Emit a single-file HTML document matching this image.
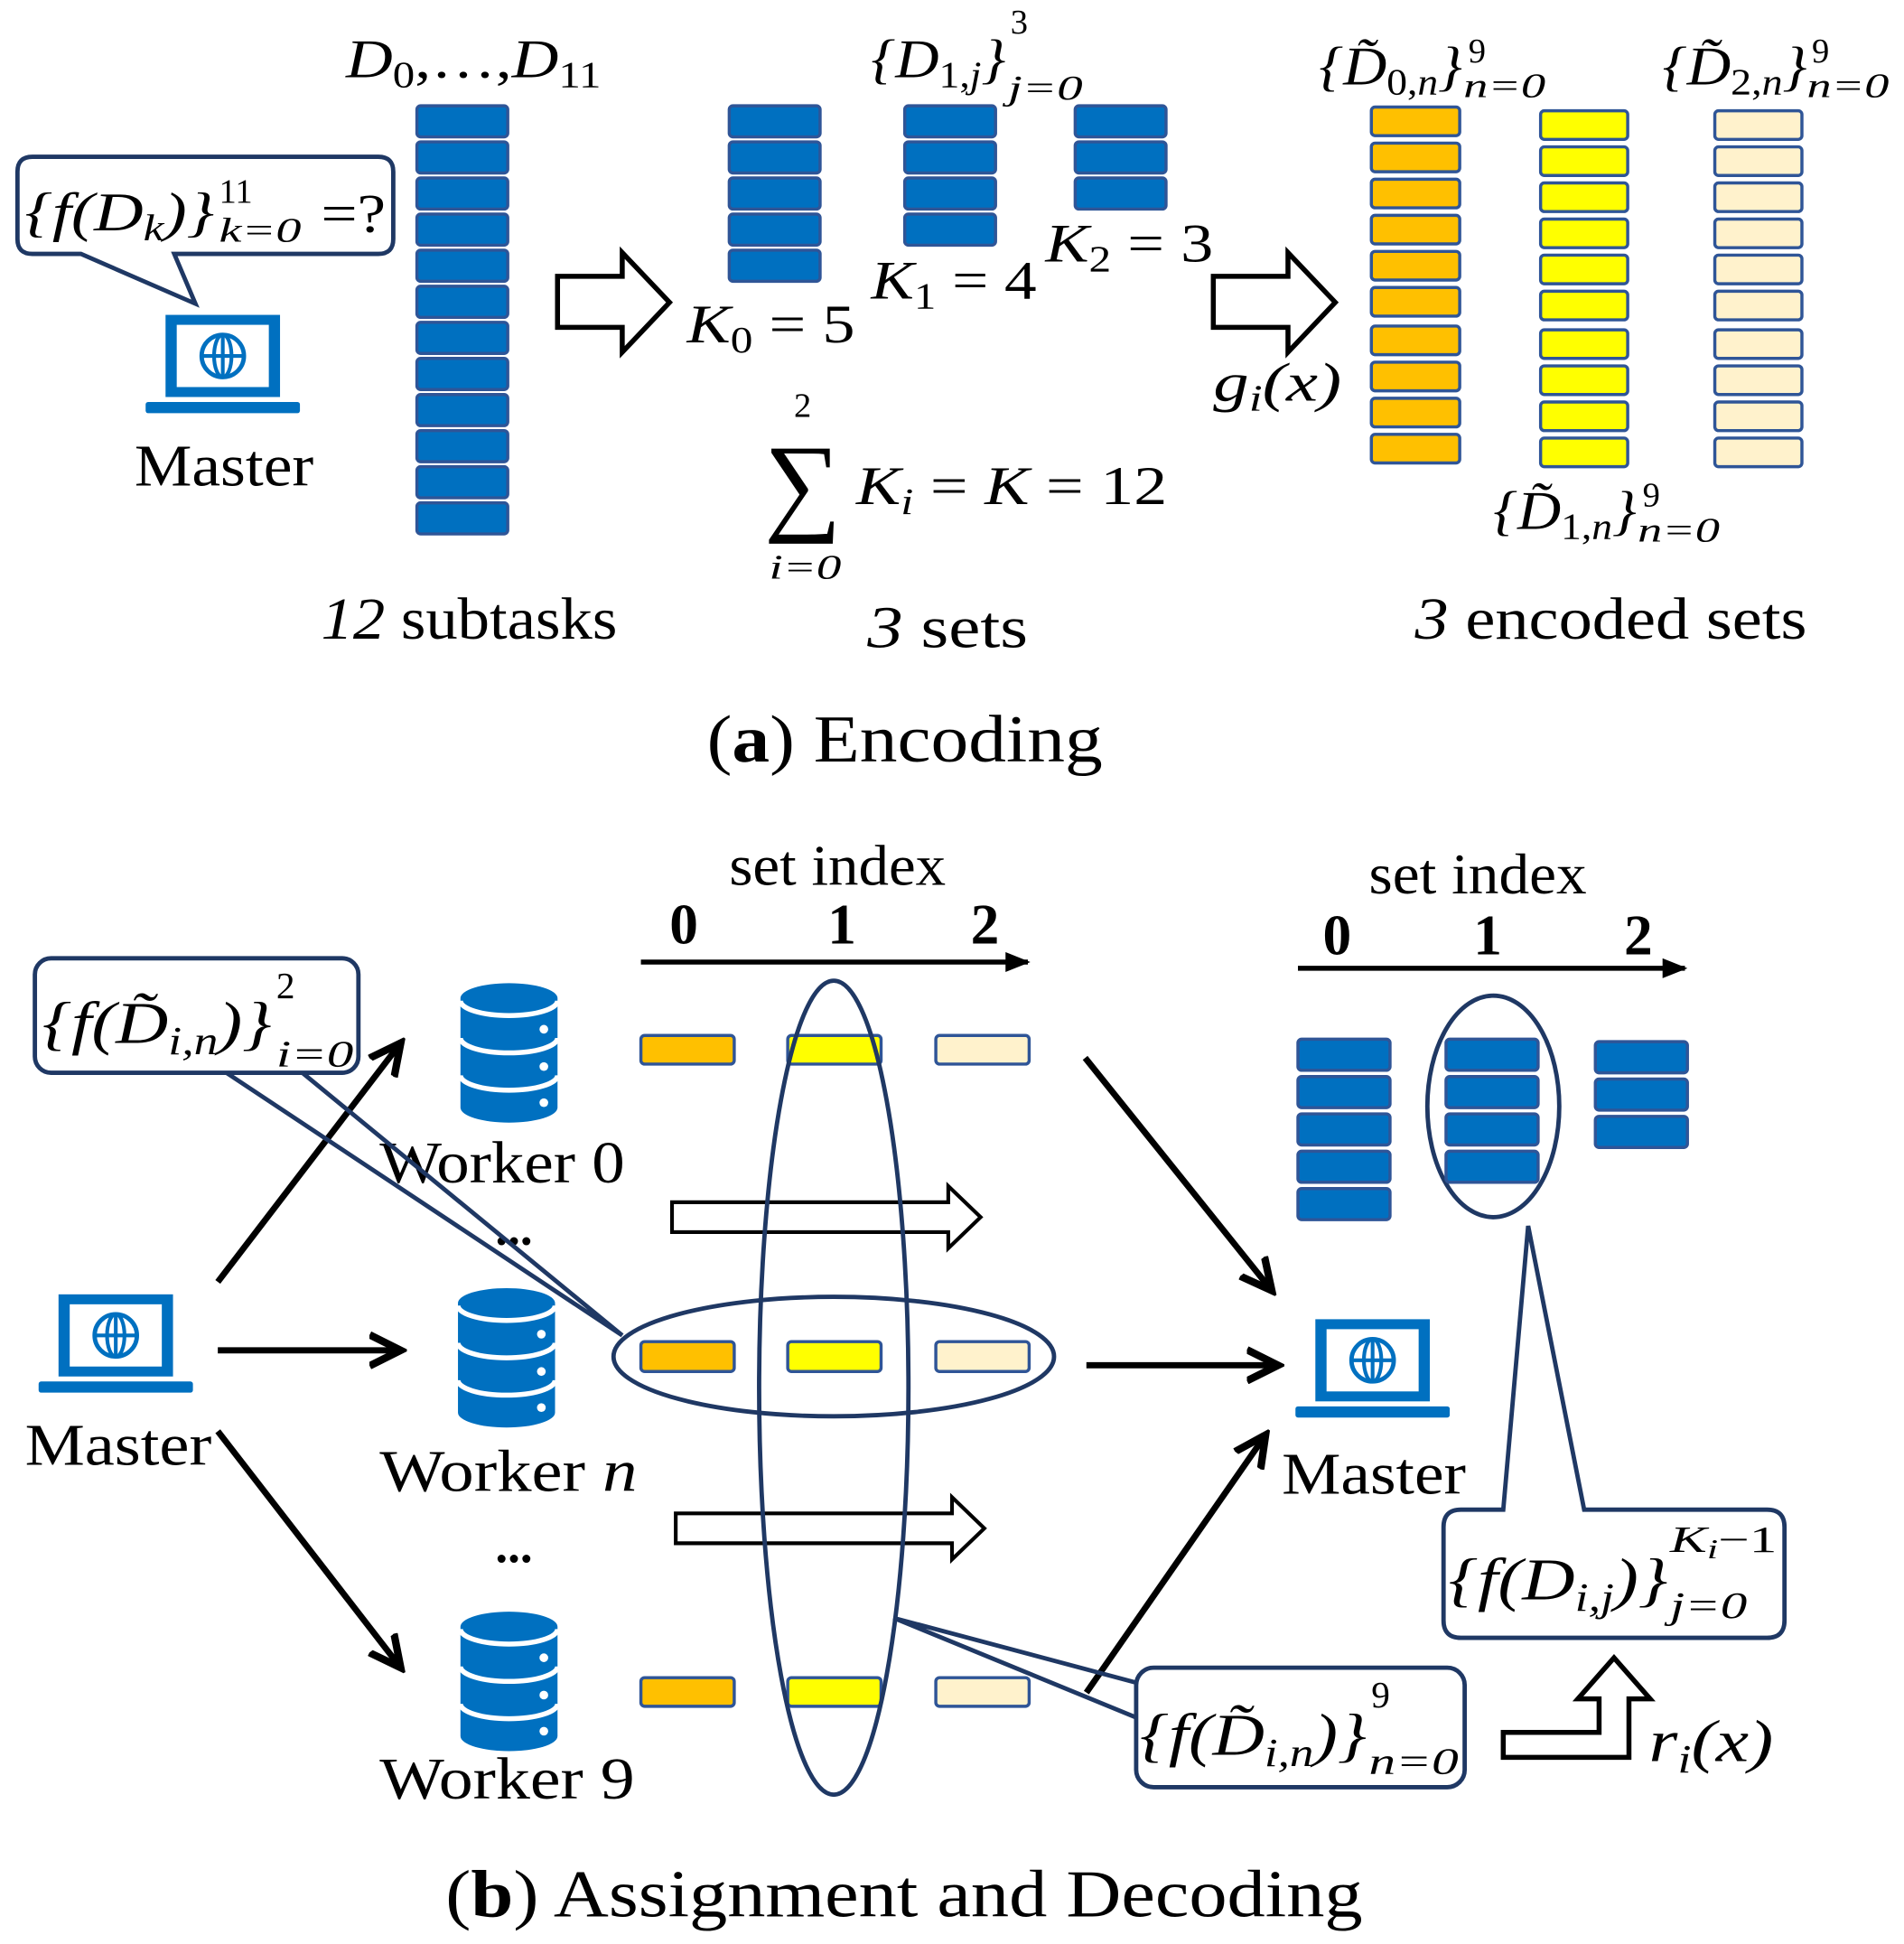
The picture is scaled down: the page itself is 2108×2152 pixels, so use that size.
<!DOCTYPE html>
<html><head><meta charset="utf-8"><style>
html,body{margin:0;padding:0;background:#fff}
svg{display:block}
text{font-family:"Liberation Serif",serif;fill:#000}
.m{font-style:italic}
</style></head><body>
<svg width="2108" height="2152" viewBox="0 0 1530 1562" xmlns="http://www.w3.org/2000/svg">
<defs>
<marker id="ah" markerWidth="6" markerHeight="6" refX="5" refY="3" orient="auto" markerUnits="strokeWidth"><path d="M0,0.5 L5,3 L0,5.5" fill="none" stroke="#000" stroke-width="1.2"/></marker>
<marker id="ah2" markerWidth="5" markerHeight="4" refX="4.5" refY="2" orient="auto" markerUnits="strokeWidth"><path d="M0,0 L5,2 L0,4z" fill="#000"/></marker>
<g id="lap">
<rect x="0" y="0" width="92" height="66" fill="#0070C0"/>
<rect x="9" y="8" width="74" height="50" fill="#fff"/>
<circle cx="46" cy="33" r="17" fill="none" stroke="#0070C0" stroke-width="3.5"/>
<ellipse cx="46" cy="33" rx="7" ry="17" fill="none" stroke="#0070C0" stroke-width="3"/>
<line x1="29" y1="33" x2="63" y2="33" stroke="#0070C0" stroke-width="3"/>
<line x1="46" y1="16" x2="46" y2="50" stroke="#0070C0" stroke-width="3"/>
<rect x="-16" y="70" width="124" height="9" rx="2" fill="#0070C0"/>
</g>
<g id="db">
<path d="M0,12 a39,12 0 0 1 78,0 v88 a39,12 0 0 1 -78,0z" fill="#0070C0"/>
<path d="M0,14 a39,12 0 0 0 78,0 M0,44 a39,12 0 0 0 78,0 M0,74 a39,12 0 0 0 78,0" fill="none" stroke="#fff" stroke-width="4"/>
<circle cx="67" cy="37" r="3.5" fill="#fff"/><circle cx="67" cy="67" r="3.5" fill="#fff"/><circle cx="67" cy="96" r="3.5" fill="#fff"/>
</g>
</defs>

<!-- (a) -->
<g fill="#0070C0" stroke="#2F5597" stroke-width="2.5">
<rect x="335" y="85" width="73" height="25" rx="3"/><rect x="335" y="114" width="73" height="25" rx="3"/><rect x="335" y="143" width="73" height="25" rx="3"/><rect x="335" y="172" width="73" height="25" rx="3"/><rect x="335" y="201" width="73" height="25" rx="3"/><rect x="335" y="230" width="73" height="25" rx="3"/><rect x="335" y="259" width="73" height="25" rx="3"/><rect x="335" y="288" width="73" height="25" rx="3"/><rect x="335" y="317" width="73" height="25" rx="3"/><rect x="335" y="346" width="73" height="25" rx="3"/><rect x="335" y="375" width="73" height="25" rx="3"/><rect x="335" y="404" width="73" height="25" rx="3"/>
<rect x="586" y="85" width="73" height="25" rx="3"/><rect x="586" y="114" width="73" height="25" rx="3"/><rect x="586" y="143" width="73" height="25" rx="3"/><rect x="586" y="172" width="73" height="25" rx="3"/><rect x="586" y="201" width="73" height="25" rx="3"/>
<rect x="727" y="85" width="73" height="25" rx="3"/><rect x="727" y="114" width="73" height="25" rx="3"/><rect x="727" y="143" width="73" height="25" rx="3"/><rect x="727" y="172" width="73" height="25" rx="3"/>
<rect x="864" y="85" width="73" height="25" rx="3"/><rect x="864" y="114" width="73" height="25" rx="3"/><rect x="864" y="143" width="73" height="25" rx="3"/>
</g>
<g stroke="#2F5597" stroke-width="2.5">
<g fill="#FFC000"><rect x="1102" y="86" width="71" height="23" rx="3"/><rect x="1102" y="115" width="71" height="23" rx="3"/><rect x="1102" y="144" width="71" height="23" rx="3"/><rect x="1102" y="173" width="71" height="23" rx="3"/><rect x="1102" y="202" width="71" height="23" rx="3"/><rect x="1102" y="231" width="71" height="23" rx="3"/><rect x="1102" y="262" width="71" height="23" rx="3"/><rect x="1102" y="291" width="71" height="23" rx="3"/><rect x="1102" y="320" width="71" height="23" rx="3"/><rect x="1102" y="349" width="71" height="23" rx="3"/></g>
<g fill="#FFFF00"><rect x="1238" y="89" width="70" height="23" rx="3"/><rect x="1238" y="118" width="70" height="23" rx="3"/><rect x="1238" y="147" width="70" height="23" rx="3"/><rect x="1238" y="176" width="70" height="23" rx="3"/><rect x="1238" y="205" width="70" height="23" rx="3"/><rect x="1238" y="234" width="70" height="23" rx="3"/><rect x="1238" y="265" width="70" height="23" rx="3"/><rect x="1238" y="294" width="70" height="23" rx="3"/><rect x="1238" y="323" width="70" height="23" rx="3"/><rect x="1238" y="352" width="70" height="23" rx="3"/></g>
<g fill="#FFF2CC"><rect x="1378" y="89" width="70" height="23" rx="3"/><rect x="1378" y="118" width="70" height="23" rx="3"/><rect x="1378" y="147" width="70" height="23" rx="3"/><rect x="1378" y="176" width="70" height="23" rx="3"/><rect x="1378" y="205" width="70" height="23" rx="3"/><rect x="1378" y="234" width="70" height="23" rx="3"/><rect x="1378" y="265" width="70" height="23" rx="3"/><rect x="1378" y="294" width="70" height="23" rx="3"/><rect x="1378" y="323" width="70" height="23" rx="3"/><rect x="1378" y="352" width="70" height="23" rx="3"/></g>
</g>
<!-- bubble a -->
<path d="M26,126 H304 Q316,126 316,138 V192 Q316,204 304,204 H140 L157,244 L65,204 H26 Q14,204 14,192 V138 Q14,126 26,126z" fill="#fff" stroke="#1F3864" stroke-width="3.5"/>
<text x="20" y="185" class="m" font-size="44" textLength="152" lengthAdjust="spacingAndGlyphs">{f(D<tspan font-size="30" dy="8">k</tspan><tspan dy="-8">)}</tspan></text>
<text x="176" y="163" font-size="28">11</text>
<text x="176" y="194" class="m" font-size="28" textLength="66" lengthAdjust="spacingAndGlyphs">k=0</text>
<text x="258" y="186" font-size="44" textLength="52" lengthAdjust="spacingAndGlyphs">=?</text>
<use href="#lap" x="133" y="253"/>
<text x="108" y="390" font-size="48" textLength="144" lengthAdjust="spacingAndGlyphs">Master</text>
<text x="278" y="62" class="m" font-size="44" textLength="205" lengthAdjust="spacingAndGlyphs">D<tspan font-size="30" dy="8" font-style="normal">0</tspan><tspan dy="-8" font-style="normal">,…,</tspan>D<tspan font-size="30" dy="8" font-style="normal">11</tspan></text>
<text x="700" y="62" class="m" font-size="44" textLength="108" lengthAdjust="spacingAndGlyphs">{D<tspan font-size="30" dy="8" font-style="normal">1,</tspan><tspan font-size="30">j</tspan><tspan dy="-8">}</tspan></text>
<text x="812" y="27" font-size="28">3</text>
<text x="810" y="80" class="m" font-size="28" textLength="60" lengthAdjust="spacingAndGlyphs">j=0</text>
<!-- hollow arrows -->
<polygon points="448,222 500,222 500,203 538,243 500,283 500,263 448,263" fill="#fff" stroke="#000" stroke-width="4"/>
<polygon points="975,222 1035,222 1035,203 1073,243 1035,283 1035,263 975,263" fill="#fff" stroke="#000" stroke-width="4"/>
<text x="552" y="275" class="m" font-size="44" textLength="135" lengthAdjust="spacingAndGlyphs">K<tspan font-size="30" dy="8" font-style="normal">0</tspan><tspan dy="-8" font-style="normal"> = 5</tspan></text>
<text x="700" y="240" class="m" font-size="44" textLength="133" lengthAdjust="spacingAndGlyphs">K<tspan font-size="30" dy="8" font-style="normal">1</tspan><tspan dy="-8" font-style="normal"> = 4</tspan></text>
<text x="840" y="210" class="m" font-size="44" textLength="135" lengthAdjust="spacingAndGlyphs">K<tspan font-size="30" dy="8" font-style="normal">2</tspan><tspan dy="-8" font-style="normal"> = 3</tspan></text>
<text x="975" y="322" class="m" font-size="44" textLength="103" lengthAdjust="spacingAndGlyphs">g<tspan font-size="30" dy="8">i</tspan><tspan dy="-8">(x)</tspan></text>
<text x="638" y="335" font-size="28">2</text>
<text x="614" y="418" font-size="88" textLength="62" lengthAdjust="spacingAndGlyphs">∑</text>
<text x="618" y="465" class="m" font-size="28" textLength="58" lengthAdjust="spacingAndGlyphs">i=0</text>
<text x="688" y="405" class="m" font-size="44" textLength="250" lengthAdjust="spacingAndGlyphs">K<tspan font-size="30" dy="8">i</tspan><tspan dy="-8" font-style="normal"> = </tspan>K<tspan font-style="normal"> = 12</tspan></text>
<text x="1060" y="68" class="m" font-size="44" textLength="115" lengthAdjust="spacingAndGlyphs">{D̃<tspan font-size="30" dy="8" font-style="normal">0,</tspan><tspan font-size="30">n</tspan><tspan dy="-8">}</tspan></text>
<text x="1180" y="50" font-size="28">9</text><text x="1176" y="78" class="m" font-size="28" textLength="66" lengthAdjust="spacingAndGlyphs">n=0</text>
<text x="1336" y="68" class="m" font-size="44" textLength="116" lengthAdjust="spacingAndGlyphs">{D̃<tspan font-size="30" dy="8" font-style="normal">2,</tspan><tspan font-size="30">n</tspan><tspan dy="-8">}</tspan></text>
<text x="1456" y="50" font-size="28">9</text><text x="1452" y="78" class="m" font-size="28" textLength="66" lengthAdjust="spacingAndGlyphs">n=0</text>
<text x="1200" y="425" class="m" font-size="44" textLength="115" lengthAdjust="spacingAndGlyphs">{D̃<tspan font-size="30" dy="8" font-style="normal">1,</tspan><tspan font-size="30">n</tspan><tspan dy="-8">}</tspan></text>
<text x="1320" y="407" font-size="28">9</text><text x="1316" y="435" class="m" font-size="28" textLength="66" lengthAdjust="spacingAndGlyphs">n=0</text>
<text x="258" y="513" font-size="48" textLength="238" lengthAdjust="spacingAndGlyphs"><tspan font-style="italic">12</tspan> subtasks</text>
<text x="697" y="520" font-size="48" textLength="129" lengthAdjust="spacingAndGlyphs"><tspan font-style="italic">3</tspan>   sets</text>
<text x="1137" y="513" font-size="48" textLength="315" lengthAdjust="spacingAndGlyphs"><tspan font-style="italic">3</tspan>   encoded sets</text>
<text x="568" y="612" font-size="54" textLength="318" lengthAdjust="spacingAndGlyphs">(<tspan font-weight="bold">a</tspan>)  Encoding</text>

<!-- (b) -->
<text x="586" y="711" font-size="46" textLength="174" lengthAdjust="spacingAndGlyphs">set index</text>
<text x="538" y="758" font-size="46" font-weight="bold">0</text><text x="665" y="758" font-size="46" font-weight="bold">1</text><text x="780" y="758" font-size="46" font-weight="bold">2</text>
<line x1="515" y1="773" x2="826" y2="773" stroke="#000" stroke-width="4" marker-end="url(#ah2)"/>
<text x="1100" y="718" font-size="46" textLength="175" lengthAdjust="spacingAndGlyphs">set index</text>
<text x="1063" y="767" font-size="46" font-weight="bold">0</text><text x="1184" y="767" font-size="46" font-weight="bold">1</text><text x="1305" y="767" font-size="46" font-weight="bold">2</text>
<line x1="1043" y1="778" x2="1354" y2="778" stroke="#000" stroke-width="4" marker-end="url(#ah2)"/>

<use href="#db" x="370" y="790"/>
<use href="#db" x="368" y="1035"/>
<use href="#db" x="370" y="1295"/>
<text x="305" y="950" font-size="48" textLength="197" lengthAdjust="spacingAndGlyphs">Worker 0</text>
<text x="398" y="1000" font-size="40" font-weight="bold">...</text>
<text x="305" y="1198" font-size="48" textLength="207" lengthAdjust="spacingAndGlyphs">Worker <tspan font-style="italic">n</tspan></text>
<text x="398" y="1255" font-size="40" font-weight="bold">...</text>
<text x="305" y="1445" font-size="48" textLength="205" lengthAdjust="spacingAndGlyphs">Worker 9</text>
<use href="#lap" x="47" y="1040"/>
<text x="20" y="1177" font-size="48" textLength="150" lengthAdjust="spacingAndGlyphs">Master</text>
<g stroke="#000" stroke-width="5" fill="none">
<line x1="175" y1="1030" x2="322" y2="838" marker-end="url(#ah)"/>
<line x1="175" y1="1085" x2="322" y2="1085" marker-end="url(#ah)"/>
<line x1="175" y1="1150" x2="322" y2="1340" marker-end="url(#ah)"/>
<line x1="872" y1="850" x2="1022" y2="1037" marker-end="url(#ah)"/>
<line x1="873" y1="1097" x2="1027" y2="1097" marker-end="url(#ah)"/>
<line x1="873" y1="1360" x2="1017" y2="1153" marker-end="url(#ah)"/>
</g>
<g stroke="#2F5597" stroke-width="2.5">
<rect x="515" y="832" width="75" height="23" rx="3" fill="#FFC000"/><rect x="633" y="832" width="75" height="23" rx="3" fill="#FFFF00"/><rect x="752" y="832" width="75" height="23" rx="3" fill="#FFF2CC"/>
<rect x="515" y="1078" width="75" height="24" rx="3" fill="#FFC000"/><rect x="633" y="1078" width="75" height="24" rx="3" fill="#FFFF00"/><rect x="752" y="1078" width="75" height="24" rx="3" fill="#FFF2CC"/>
<rect x="515" y="1348" width="75" height="23" rx="3" fill="#FFC000"/><rect x="633" y="1348" width="75" height="23" rx="3" fill="#FFFF00"/><rect x="752" y="1348" width="75" height="23" rx="3" fill="#FFF2CC"/>
</g>
<polygon points="540,966 762,966 762,953 788,978 762,1003 762,990 540,990" fill="#fff" stroke="#000" stroke-width="3"/>
<polygon points="543,1216 765,1216 765,1203 791,1228 765,1253 765,1240 543,1240" fill="#fff" stroke="#000" stroke-width="3"/>
<g fill="none" stroke="#1F3864" stroke-width="3.5">
<ellipse cx="670" cy="1115" rx="60" ry="327"/>
<ellipse cx="670" cy="1090" rx="177" ry="48"/>
<ellipse cx="1200" cy="889" rx="53" ry="89"/>
</g>
<!-- bubble top-left -->
<rect x="28" y="770" width="260" height="92" rx="13" fill="#fff" stroke="#1F3864" stroke-width="3.5"/>
<polyline points="243,862 500,1073 182,862" fill="none" stroke="#1F3864" stroke-width="3.5"/>
<text x="34" y="838" class="m" font-size="48" textLength="184" lengthAdjust="spacingAndGlyphs">{f(D̃<tspan font-size="32" dy="9">i,n</tspan><tspan dy="-9">)}</tspan></text>
<text x="222" y="802" font-size="30">2</text><text x="222" y="857" class="m" font-size="30" textLength="62" lengthAdjust="spacingAndGlyphs">i=0</text>
<!-- right blue -->
<g fill="#0070C0" stroke="#2F5597" stroke-width="2.5">
<rect x="1043" y="835" width="74" height="25" rx="3"/><rect x="1043" y="865" width="74" height="25" rx="3"/><rect x="1043" y="895" width="74" height="25" rx="3"/><rect x="1043" y="925" width="74" height="25" rx="3"/><rect x="1043" y="955" width="74" height="25" rx="3"/>
<rect x="1162" y="835" width="74" height="25" rx="3"/><rect x="1162" y="865" width="74" height="25" rx="3"/><rect x="1162" y="895" width="74" height="25" rx="3"/><rect x="1162" y="925" width="74" height="25" rx="3"/>
<rect x="1282" y="837" width="74" height="25" rx="3"/><rect x="1282" y="867" width="74" height="25" rx="3"/><rect x="1282" y="897" width="74" height="25" rx="3"/>
</g>
<use href="#lap" x="1057" y="1060"/>
<text x="1030" y="1200" font-size="48" textLength="148" lengthAdjust="spacingAndGlyphs">Master</text>
<!-- bubble right top -->
<path d="M1174,1213 H1208 L1228,985 L1273,1213 H1420 Q1434,1213 1434,1227 V1302 Q1434,1316 1420,1316 H1174 Q1160,1316 1160,1302 V1227 Q1160,1213 1174,1213z" fill="#fff" stroke="#1F3864" stroke-width="3.5"/>
<text x="1164" y="1285" class="m" font-size="48" textLength="176" lengthAdjust="spacingAndGlyphs">{f(D<tspan font-size="32" dy="9">i,j</tspan><tspan dy="-9">)}</tspan></text>
<text x="1342" y="1247" class="m" font-size="30" textLength="86" lengthAdjust="spacingAndGlyphs">K<tspan font-size="22" dy="5">i</tspan><tspan dy="-5" font-style="normal">−1</tspan></text>
<text x="1342" y="1300" class="m" font-size="30" textLength="62" lengthAdjust="spacingAndGlyphs">j=0</text>
<!-- bubble right bottom -->
<rect x="913" y="1340" width="264" height="96" rx="14" fill="#fff" stroke="#1F3864" stroke-width="3.5"/>
<polyline points="913,1380 718,1300 913,1352" fill="none" stroke="#1F3864" stroke-width="3.5"/>
<text x="916" y="1410" class="m" font-size="48" textLength="182" lengthAdjust="spacingAndGlyphs">{f(D̃<tspan font-size="32" dy="9">i,n</tspan><tspan dy="-9">)}</tspan></text>
<text x="1102" y="1372" font-size="30">9</text><text x="1100" y="1425" class="m" font-size="30" textLength="72" lengthAdjust="spacingAndGlyphs">n=0</text>
<polygon points="1208,1392 1285,1392 1285,1365 1268,1365 1297,1332 1326,1365 1309,1365 1309,1412 1208,1412" fill="#fff" stroke="#000" stroke-width="4"/>
<text x="1325" y="1415" class="m" font-size="48" textLength="100" lengthAdjust="spacingAndGlyphs">r<tspan font-size="32" dy="9">i</tspan><tspan dy="-9">(x)</tspan></text>
<text x="358" y="1540" font-size="54" textLength="737" lengthAdjust="spacingAndGlyphs">(<tspan font-weight="bold">b</tspan>)  Assignment and Decoding</text>
</svg>
</body></html>
